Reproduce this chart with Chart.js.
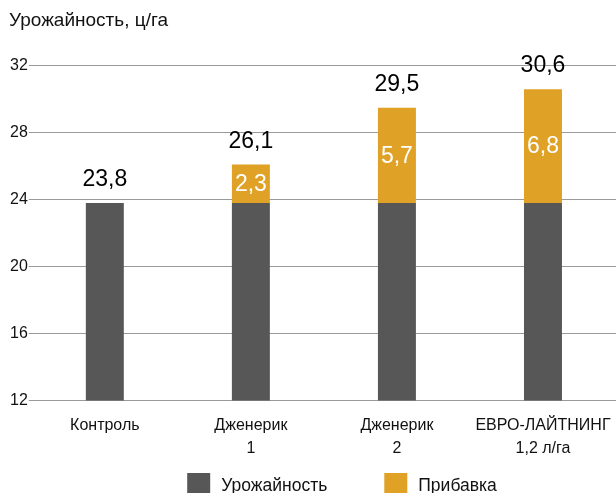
<!DOCTYPE html>
<html>
<head>
<meta charset="utf-8">
<script src="https://cdn.jsdelivr.net/npm/chart.js@4"></script>
<style>
  html, body { margin: 0; padding: 0; background: #fff; }
  #wrap { width: 616px; height: 493px; }
</style>
</head>
<body>
<div id="wrap"><canvas id="barChart"></canvas></div>
<script>
const categories = [['Контроль'], ['Дженерик', '1'], ['Дженерик', '2'], ['ЕВРО-ЛАЙТНИНГ', '1,2 л/га']];
const yieldValues = [23.8, 23.8, 23.8, 23.8];
const gainValues = [null, 2.3, 5.7, 6.8];
const totalValues = [23.8, 26.1, 29.5, 30.6];
const yTicks = [12, 16, 20, 24, 28, 32];

const FONT = '"Liberation Sans", Arial, sans-serif';

function fmt(v) {
    return v.toFixed(1).replace('.', ',');
}

// value labels: totals above bars, gain inside the orange part
const barLabels = {
    id: 'barLabels',
    afterDatasetsDraw(chart) {
        const ctx = chart.ctx;
        const top = chart.getDatasetMeta(1);
        const base = chart.getDatasetMeta(0);
        ctx.save();
        ctx.textAlign = 'center';
        ctx.font = '23px ' + FONT;

        totalValues.forEach((v, i) => {
            const bar = gainValues[i] ? top.data[i] : base.data[i];
            ctx.fillStyle = '#000';
            ctx.textBaseline = 'alphabetic';
            ctx.fillText(fmt(v), bar.x, bar.y - 17);
        });

        gainValues.forEach((v, i) => {
            if (!v) return;
            const bar = top.data[i];
            ctx.fillStyle = '#fff';
            ctx.textBaseline = 'middle';
            ctx.fillText(fmt(v), bar.x, (bar.y + bar.base) / 2 + 1);
        });
        ctx.restore();
    }
};

// legend at the bottom, built from the datasets
const bottomLegend = {
    id: 'bottomLegend',
    afterDraw(chart) {
        const ctx = chart.ctx;
        const box = 23, gap = 11, spacing = 57;
        ctx.save();
        ctx.font = '17.5px ' + FONT;
        ctx.textBaseline = 'alphabetic';
        ctx.textAlign = 'left';
        const items = chart.data.datasets.map(ds => ({
            text: ds.label,
            color: ds.backgroundColor,
            w: box + gap + ctx.measureText(ds.label).width
        }));
        const total = items.reduce((s, it) => s + it.w, 0) + spacing * (items.length - 1);
        let x = chart.width / 2 + 34 - total / 2;
        const y = chart.height - 20;
        items.forEach(it => {
            ctx.fillStyle = it.color;
            ctx.fillRect(x, y, box, box);
            ctx.fillStyle = '#111';
            ctx.fillText(it.text, x + box + gap, y + 18);
            x += it.w + spacing;
        });
        ctx.restore();
    }
};

const ctx = document.getElementById('barChart').getContext('2d');
new Chart(ctx, {
    type: 'bar',
    data: {
        labels: categories,
        datasets: [{
            label: 'Урожайность',
            data: yieldValues,
            backgroundColor: '#575757',
            categoryPercentage: 1,
            barPercentage: 0.26
        }, {
            label: 'Прибавка',
            data: gainValues,
            backgroundColor: '#DFA126',
            categoryPercentage: 1,
            barPercentage: 0.26
        }]
    },
    options: {
        responsive: true,
        maintainAspectRatio: false,
        animation: false,
        layout: { padding: { left: 9, right: 0, top: 0, bottom: 28 } },
        scales: {
            x: {
                stacked: true,
                grid: { display: false },
                border: { display: false },
                afterFit: axis => {
                    // let the last label run to the edge
                    axis.paddingRight = 0;
                    axis.paddingLeft = 0;
                },
                ticks: {
                    color: '#111',
                    padding: 5,
                    autoSkip: false,
                    maxRotation: 0,
                    minRotation: 0,
                    font: { family: FONT, size: 16, lineHeight: 1.45 }
                }
            },
            y: {
                stacked: true,
                min: 12,
                max: 32,
                afterBuildTicks: axis => {
                    axis.ticks = yTicks.map(v => ({ value: v }));
                },
                grid: { color: '#9a9a9a', lineWidth: 1, tickLength: 3 },
                border: { display: false },
                ticks: {
                    color: '#111',
                    padding: 1,
                    font: { family: FONT, size: 16 }
                }
            }
        },
        plugins: {
            title: {
                display: true,
                text: 'Урожайность, ц/га',
                align: 'start',
                color: '#111',
                font: { family: FONT, size: 19, weight: 'normal' },
                padding: { top: 9, bottom: 34 }
            },
            legend: { display: false },
            tooltip: { enabled: false }
        }
    },
    plugins: [barLabels, bottomLegend]
});
</script>
</body>
</html>
